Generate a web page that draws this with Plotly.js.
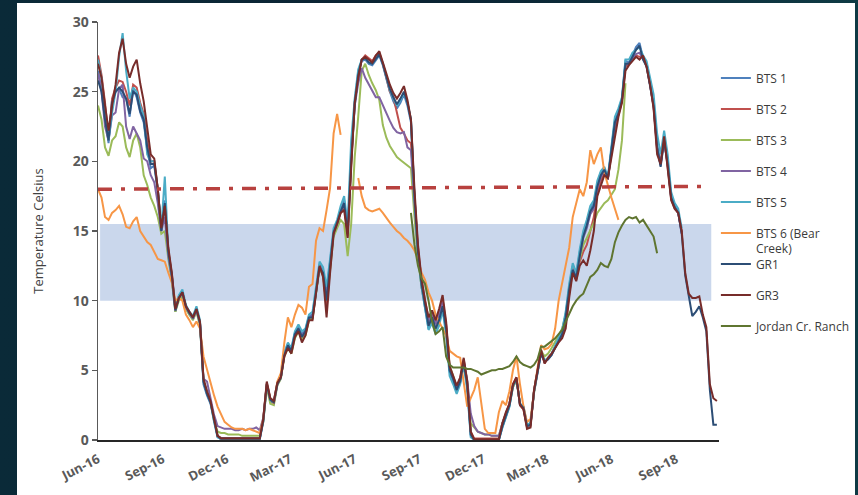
<!DOCTYPE html>
<html>
<head>
<meta charset="utf-8">
<script src="https://cdn.plot.ly/plotly-3.0.1.min.js"></script>
<style>
  html, body { margin:0; padding:0; width:858px; height:495px; overflow:hidden;
    background: linear-gradient(90deg, #0a2a38 0%, #0b2333 50%, #0e3a44 100%); }
  #panel { position:absolute; left:17px; top:3px; width:838px; height:500px; background:#ffffff; }
  #chart { position:absolute; left:0; top:0; width:858px; height:495px; }
</style>
</head>
<body>
<div id="panel"></div>
<div id="chart"></div>
<script>
// ---- data (5-day samples) ----
const dates = [
"2016-06-01","2016-06-06","2016-06-11","2016-06-16","2016-06-21","2016-06-26","2016-07-01","2016-07-06","2016-07-11","2016-07-16",
"2016-07-21","2016-07-26","2016-07-31","2016-08-05","2016-08-10","2016-08-15","2016-08-20","2016-08-25","2016-08-30","2016-09-04",
"2016-09-09","2016-09-14","2016-09-19","2016-09-24","2016-09-29","2016-10-04","2016-10-09","2016-10-14","2016-10-19","2016-10-24",
"2016-10-29","2016-11-03","2016-11-08","2016-11-13","2016-11-18","2016-11-23","2016-11-28","2016-12-03","2016-12-08","2016-12-13",
"2016-12-18","2016-12-23","2016-12-28","2017-01-02","2017-01-07","2017-01-12","2017-01-17","2017-01-22","2017-01-27","2017-02-01",
"2017-02-06","2017-02-11","2017-02-16","2017-02-21","2017-02-26","2017-03-03","2017-03-08","2017-03-13","2017-03-18","2017-03-23",
"2017-03-28","2017-04-02","2017-04-07","2017-04-12","2017-04-17","2017-04-22","2017-04-27","2017-05-02","2017-05-07","2017-05-12",
"2017-05-17","2017-05-22","2017-05-27","2017-06-01","2017-06-06","2017-06-11","2017-06-16","2017-06-21","2017-06-26","2017-07-01",
"2017-07-06","2017-07-11","2017-07-16","2017-07-21","2017-07-26","2017-07-31","2017-08-05","2017-08-10","2017-08-15","2017-08-20",
"2017-08-25","2017-08-30","2017-09-04","2017-09-09","2017-09-14","2017-09-19","2017-09-24","2017-09-29","2017-10-04","2017-10-09",
"2017-10-14","2017-10-19","2017-10-24","2017-10-29","2017-11-03","2017-11-08","2017-11-13","2017-11-18","2017-11-23","2017-11-28",
"2017-12-03","2017-12-08","2017-12-13","2017-12-18","2017-12-23","2017-12-28","2018-01-02","2018-01-07","2018-01-12","2018-01-17",
"2018-01-22","2018-01-27","2018-02-01","2018-02-06","2018-02-11","2018-02-16","2018-02-21","2018-02-26","2018-03-03","2018-03-08",
"2018-03-13","2018-03-18","2018-03-23","2018-03-28","2018-04-02","2018-04-07","2018-04-12","2018-04-17","2018-04-22","2018-04-27",
"2018-05-02","2018-05-07","2018-05-12","2018-05-17","2018-05-22","2018-05-27","2018-06-01","2018-06-06","2018-06-11","2018-06-16",
"2018-06-21","2018-06-26","2018-07-01","2018-07-06","2018-07-11","2018-07-16","2018-07-21","2018-07-26","2018-07-31","2018-08-05",
"2018-08-10","2018-08-15","2018-08-20","2018-08-25","2018-08-30","2018-09-04","2018-09-09","2018-09-14","2018-09-19","2018-09-24",
"2018-09-29","2018-10-04","2018-10-09","2018-10-14","2018-10-19","2018-10-24","2018-10-29"];

const bts1 = [
26.5,25.2,23.2,21.3,24.4,25.0,25.2,24.6,24.5,23.2,
25.2,24.6,23.5,22.8,20.8,19.5,19.7,17.8,15.0,17.2,
13.4,11.6,9.2,10.3,10.5,9.5,9.0,8.7,9.3,8.3,
4.0,3.2,2.6,1.3,0.2,0.05,0.05,0.05,0.05,0.05,
0.05,0.05,0.05,0.05,0.05,0.05,0.05,1.3,3.9,2.8,
2.6,4.0,4.4,6.2,6.9,6.5,7.7,8.1,7.6,7.9,
8.9,9.0,10.7,12.6,12.2,10.6,12.8,15.0,15.6,16.5,
17.2,15.0,20.5,24.3,26.4,27.2,27.3,27.0,26.9,27.3,
27.6,26.9,25.9,25.0,24.3,23.8,24.2,24.8,24.0,22.8,
17.2,13.2,11.0,9.4,8.0,8.6,7.8,8.4,9.5,7.8,
4.9,4.2,3.5,4.1,5.5,3.8,0.3,0.0,0.0,0.0,
0.0,0.0,0.0,0.0,0.0,0.9,1.7,2.4,3.8,4.3,
2.6,2.4,1.1,1.2,3.4,4.9,6.2,5.6,5.8,6.1,
6.7,7.3,7.8,9.0,11.0,12.5,11.8,13.5,14.8,15.6,
16.6,17.0,18.4,19.2,19.5,18.7,21.0,23.0,23.6,24.5,
27.2,27.1,27.6,28.2,28.5,27.4,27.0,25.6,24.2,21.2,
19.8,21.8,20.0,17.5,16.8,16.4,14.9,null,null,null,
null,null,null,null,null,null,null];

const bts2 = [
27.6,26.2,24.2,21.6,24.5,25.3,25.8,25.7,25.0,24.0,
25.5,25.3,24.2,23.4,21.5,20.0,20.0,18.0,15.1,17.0,
13.6,11.9,9.4,10.3,10.6,9.6,9.2,8.8,9.4,8.5,
4.3,3.4,2.8,1.5,0.3,0.15,0.15,0.15,0.15,0.15,
0.15,0.15,0.15,0.15,0.15,0.15,0.15,1.5,4.1,3.0,
2.8,4.1,4.5,6.1,6.7,6.3,7.5,7.9,7.2,7.6,
8.7,8.7,10.5,12.5,11.9,9.5,12.3,14.9,15.5,16.3,
16.8,14.6,19.8,24.2,26.1,27.3,27.6,27.4,27.2,27.6,
27.8,27.0,26.0,25.0,24.6,23.5,22.4,22.0,21.5,21.3,
17.5,13.8,11.4,9.9,8.7,9.1,8.4,9.2,10.1,8.3,
5.2,4.5,3.8,4.4,5.8,4.1,0.6,0.1,0.1,0.1,
0.1,0.1,0.1,0.1,0.1,1.2,1.9,2.6,4.0,4.5,
2.5,2.2,0.9,1.0,3.6,5.0,6.4,5.5,5.9,6.2,
6.6,7.1,7.5,8.4,10.5,12.1,11.5,12.8,13.5,14.0,
15.0,16.0,17.8,18.6,19.2,18.8,20.5,22.4,23.3,24.3,
26.8,27.0,27.3,27.6,27.5,27.5,26.8,25.5,23.9,20.8,
19.8,21.6,19.6,17.3,16.6,16.3,14.9,null,null,null,
null,null,null,null,null,null,null];

const bts3 = [
24.0,23.0,21.0,20.4,21.5,21.8,22.8,22.5,21.0,20.3,
21.5,22.0,21.0,19.0,18.3,17.4,16.8,16.0,14.8,15.0,
13.0,11.4,9.2,10.0,10.3,9.4,9.0,8.6,9.2,8.2,
4.3,3.4,2.8,1.4,0.6,0.5,0.5,0.4,0.4,0.4,
0.4,0.3,0.3,0.3,0.3,0.3,0.3,1.3,3.8,2.6,
2.5,3.9,4.4,6.0,6.6,6.2,7.3,7.8,7.2,7.5,
8.6,8.7,10.4,12.3,11.8,10.0,12.2,14.6,15.2,15.8,
15.5,13.2,15.5,20.3,23.2,26.5,27.0,26.2,25.6,25.1,
24.4,22.6,21.7,21.1,20.7,20.3,20.1,19.9,19.7,19.5,
16.0,13.0,11.0,9.5,8.3,8.3,7.9,8.5,9.6,8.0,
5.3,4.6,3.8,4.2,5.6,4.2,1.2,0.9,0.6,0.5,
0.4,0.4,0.3,0.3,0.3,1.2,1.8,2.5,3.8,4.3,
2.6,2.3,1.0,1.1,3.4,5.0,6.4,6.0,6.2,6.6,
7.0,7.5,8.0,9.0,10.8,12.4,12.0,13.0,14.0,14.5,
15.0,15.6,16.3,16.7,17.0,17.2,17.6,18.0,19.4,21.5,
25.6,null,null,null,null,null,null,null,null,null,
null,null,null,null,null,null,null,null,null,null,
null,null,null,null,null,null,null];

const bts4 = [
26.3,25.0,22.5,21.5,23.3,23.5,25.2,25.5,22.5,21.6,
22.5,22.0,21.5,20.2,20.0,19.0,18.5,17.0,15.0,16.0,
13.2,11.6,9.3,10.2,10.5,9.5,9.1,8.7,9.3,8.4,
4.4,4.2,3.0,1.8,1.0,0.9,0.8,0.8,0.8,0.7,
0.7,0.8,0.7,0.8,0.8,0.9,0.7,1.6,4.0,2.9,
2.7,4.0,4.5,6.2,6.8,6.4,7.5,8.0,7.5,7.8,
8.8,8.9,10.6,12.4,12.1,10.4,12.6,14.9,15.5,16.4,
17.0,14.9,20.2,24.0,25.6,26.7,26.0,25.5,25.1,24.6,
24.6,24.0,23.4,22.9,22.4,22.1,22.0,22.1,21.0,20.8,
17.0,13.6,11.2,9.8,8.5,9.0,8.3,9.0,9.9,8.2,
5.1,4.5,3.7,4.3,5.7,4.3,1.9,1.0,0.6,0.5,
0.4,0.4,0.3,0.3,0.3,1.2,1.9,2.6,3.9,4.4,
2.5,2.3,1.0,1.1,3.5,5.0,6.3,5.6,5.9,6.2,
6.7,7.2,7.7,8.8,10.8,12.3,11.7,13.3,14.5,15.2,
16.2,16.6,18.1,18.9,19.3,18.7,20.7,22.7,23.4,24.4,
27.0,27.0,27.4,27.7,27.8,27.4,26.9,25.5,24.0,21.0,
19.7,21.5,19.8,17.4,16.7,16.3,14.8,null,null,null,
null,null,null,null,null,null,null];

const bts5 = [
27.3,26.0,23.5,21.5,23.5,25.0,27.5,29.2,26.5,24.5,
25.3,25.0,24.0,23.3,20.5,20.0,20.0,18.0,15.2,18.9,
13.5,11.8,9.4,10.4,10.8,9.7,9.2,8.9,9.6,8.6,
4.2,3.3,2.7,1.3,0.2,0.05,0.05,0.05,0.05,0.05,
0.05,0.05,0.05,0.05,0.05,0.05,0.05,1.4,4.0,2.9,
2.7,4.1,4.5,6.3,7.0,6.6,7.8,8.3,7.8,8.0,
9.0,9.2,10.9,12.8,12.4,11.0,13.0,15.2,15.8,16.8,
17.5,15.5,21.5,24.5,26.6,27.3,27.4,27.1,27.0,27.4,
27.7,27.0,26.0,25.1,24.5,24.0,24.4,24.9,24.2,23.0,
17.4,13.4,11.0,9.3,7.9,8.4,7.6,8.2,9.3,7.5,
4.6,4.0,3.3,4.0,5.4,3.6,0.2,0.0,0.0,0.0,
0.0,0.0,0.0,0.0,0.0,0.9,1.7,2.4,3.9,4.4,
2.6,2.4,1.1,1.2,3.5,5.0,6.3,5.7,5.9,6.2,
6.8,7.4,7.9,9.2,11.2,12.7,12.0,13.7,15.0,15.8,
16.8,17.2,18.6,19.3,19.6,18.9,21.2,23.2,23.8,24.6,
27.3,27.3,27.8,28.0,28.2,27.6,27.2,26.0,24.8,22.0,
20.5,22.2,20.5,17.8,17.0,16.6,15.2,null,null,null,
null,null,null,null,null,null,null];

const bts6 = [
18.0,17.4,16.0,15.8,16.3,16.5,16.8,16.2,15.3,15.2,
15.7,16.0,15.0,14.6,14.2,14.0,13.5,13.0,12.9,12.8,
12.0,11.3,10.0,10.2,10.0,9.0,8.6,8.1,8.5,8.0,
6.0,5.0,4.0,3.2,2.4,1.8,1.3,1.1,0.9,0.8,
0.8,0.8,0.7,0.8,0.7,0.6,0.5,1.5,4.0,3.0,
2.6,4.2,4.8,7.0,8.8,8.1,9.0,9.7,9.5,9.0,
11.0,11.2,14.3,15.2,15.0,16.5,18.1,22.0,23.4,21.9,
null,null,null,null,18.8,17.5,16.7,16.5,16.4,16.5,
16.6,16.3,15.9,15.6,15.3,15.0,14.8,14.5,14.3,14.0,
13.6,13.0,12.0,11.5,10.6,10.0,9.0,8.5,8.0,7.5,
6.4,6.2,6.0,5.9,4.0,2.4,3.0,3.6,4.5,2.5,
0.8,0.5,0.5,0.5,2.0,2.8,2.5,3.5,5.0,6.0,
4.0,2.4,1.3,1.5,3.5,5.2,6.8,6.5,6.6,6.9,
8.0,10.0,11.3,12.5,13.8,16.0,17.0,18.0,17.5,18.5,
20.8,19.8,20.5,21.0,19.2,18.2,17.4,16.6,15.8,null,
null,null,null,null,null,null,null,null,null,null,
null,null,null,null,null,null,null,null,null,null,
null,null,null,null,null,null,null];

const gr1 = [
25.8,25.0,23.0,21.5,24.2,25.0,25.3,25.0,24.5,23.4,
25.0,24.8,23.6,23.0,21.0,19.8,19.8,18.0,15.0,17.0,
13.5,11.8,9.3,10.2,10.6,9.6,9.1,8.8,9.4,8.4,
4.2,3.3,2.7,1.4,0.3,0.1,0.1,0.1,0.1,0.1,
0.1,0.1,0.1,0.1,0.1,0.1,0.1,1.4,4.0,2.9,
2.7,4.0,4.5,6.1,6.8,6.4,7.6,8.0,7.4,7.8,
8.8,8.8,10.6,12.4,12.0,10.0,12.5,14.9,15.6,16.4,
17.0,14.8,20.0,24.0,26.2,27.3,27.4,27.1,27.0,27.4,
27.7,27.0,26.0,25.2,24.6,24.1,24.5,25.0,24.2,23.0,
17.5,13.5,11.2,9.6,8.2,8.8,8.0,8.6,9.6,8.0,
5.0,4.4,3.6,4.2,5.6,4.0,0.4,0.0,0.0,0.0,
0.0,0.0,0.0,0.0,0.0,1.0,1.8,2.5,3.9,4.4,
2.6,2.3,1.0,1.1,3.5,5.0,6.3,5.6,5.8,6.1,
6.6,7.2,7.6,8.8,10.8,12.2,11.6,13.2,14.6,15.4,
16.4,16.8,18.2,19.0,19.4,18.8,20.8,22.8,23.4,24.4,
27.0,27.0,27.5,28.0,28.3,27.3,26.8,25.4,24.0,21.0,
19.6,21.5,19.8,17.4,16.7,16.3,14.8,11.8,10.2,8.9,
9.2,9.6,8.8,7.8,3.6,1.1,1.1];

const gr3 = [
27.0,26.0,24.0,22.2,24.0,25.5,27.8,28.8,27.0,26.0,
26.8,27.3,25.6,24.3,22.4,20.5,20.2,18.0,15.2,16.8,
13.8,12.0,9.4,10.2,10.6,9.6,9.2,8.8,9.4,8.5,
4.4,3.5,2.8,1.5,0.3,0.1,0.1,0.1,0.1,0.1,
0.1,0.1,0.1,0.1,0.1,0.1,0.1,1.5,4.2,3.0,
2.8,4.1,4.5,6.0,6.6,6.2,7.4,7.8,7.0,7.5,
8.6,8.6,10.5,12.5,11.7,8.8,12.0,14.8,15.5,16.3,
16.5,14.5,19.5,24.2,26.0,27.3,27.5,27.3,27.1,27.6,
27.9,27.1,26.2,25.5,24.9,24.5,24.9,25.4,24.4,23.0,
18.0,14.0,11.6,10.0,8.8,9.3,8.6,9.4,10.4,8.5,
5.3,4.6,3.9,4.5,5.9,4.2,0.6,0.05,0.05,0.05,
0.05,0.05,0.05,0.05,0.05,1.2,2.0,2.6,4.0,4.5,
2.5,2.2,0.8,0.9,3.6,5.0,6.5,5.5,5.9,6.2,
6.6,7.0,7.3,8.0,10.2,12.0,11.4,12.5,12.9,12.5,
13.6,15.0,17.5,18.3,19.0,18.8,20.3,22.0,23.2,24.2,
26.5,26.9,27.2,27.5,27.3,27.6,26.8,25.5,23.8,20.5,
19.8,21.8,19.5,17.2,16.6,16.3,15.0,12.0,10.5,10.2,
10.2,10.3,9.0,8.1,4.0,3.0,2.8];

const jordan = [
null,null,null,null,null,null,null,null,null,null,
null,null,null,null,null,null,null,null,null,null,
null,null,null,null,null,null,null,null,null,null,
null,null,null,null,null,null,null,null,null,null,
null,null,null,null,null,null,null,null,null,null,
null,null,null,null,null,null,null,null,null,null,
null,null,null,null,null,null,null,null,null,null,
null,null,null,null,null,null,null,null,null,null,
null,null,null,null,null,null,null,null,null,16.3,
14.0,12.5,11.6,11.2,10.0,8.5,7.6,7.8,8.1,6.0,
5.4,5.2,5.2,5.2,5.2,5.1,5.1,5.0,4.9,4.7,
4.8,4.9,5.0,5.0,5.1,5.1,5.2,5.3,5.6,6.0,
5.6,5.4,5.3,5.2,5.4,5.8,6.7,6.7,6.9,7.1,
7.3,7.6,7.9,8.5,9.1,9.6,10.0,10.3,10.5,11.1,
11.7,11.9,12.2,12.7,12.5,12.4,13.0,14.2,14.9,15.4,
15.8,16.0,15.9,16.0,15.6,15.8,15.4,15.0,14.6,13.4,
null,null,null,null,null,null,null,null,null,null,
null,null,null,null,null,null,null];

const seriesNames = ["BTS 1","BTS 2","BTS 3","BTS 4","BTS 5","BTS 6 (Bear<br>Creek)","GR1","GR3","Jordan Cr. Ranch"];
const seriesValues = [bts1,bts2,bts3,bts4,bts5,bts6,gr1,gr3,jordan];
const seriesColors = ["#4f81bd","#c0504d","#9bbb59","#8064a2","#4bacc6","#f79646","#2c4d75","#772c2a","#5f7530"];
const seriesLegend = ["legend","legend","legend","legend","legend","legend","legend2","legend2","legend2"];

// threshold line and target band
const thresholdDates = ["2016-06-01","2018-10-09"];
const thresholdValues = [18.0, 18.2];
const bandDates = ["2016-06-04","2018-10-21"];
const bandRange = [10, 15.5];

const xTickStart = "2016-06-01";
const xRange = ["2016-06-01","2018-11-01"];

// ---- traces ----
const traces = seriesNames.map((n,i) => ({
  type:"scatter", mode:"lines", name:n, x:dates, y:seriesValues[i],
  line:{color:seriesColors[i], width:2}, connectgaps:false,
  legendgroup:"g"+i, legend:seriesLegend[i]
}));
traces.push({
  type:"scatter", mode:"lines", x:thresholdDates, y:thresholdValues, showlegend:false,
  line:{color:"#b8413f", width:3.5, dash:"14px,9px,4px,9px"}, hoverinfo:"skip"
});

const fontFam = "'Open Sans', 'DejaVu Sans', sans-serif";
const legendBase = {xanchor:"left", yanchor:"top", valign:"top",
  font:{size:12, color:"#3b3b3b", family:fontFam}, tracegroupgap:12, bgcolor:"rgba(0,0,0,0)"};
const layout = {
  width:858, height:495,
  paper_bgcolor:"rgba(0,0,0,0)", plot_bgcolor:"rgba(0,0,0,0)",
  margin:{l:98, r:139, t:22, b:55, autoexpand:false},
  font:{family:fontFam, color:"#595959"},
  showlegend:true,
  legend:Object.assign({x:0.995, y:0.9}, legendBase),
  legend2:Object.assign({x:0.995, y:0.455}, legendBase),
  xaxis:{type:"date", range:xRange, tick0:xTickStart, dtick:"M3", tickformat:"%b-%y",
         tickangle:-27, ticks:"", showgrid:false, zeroline:false, ticklabelstandoff:5,
         showline:true, linecolor:"#262626", linewidth:2,
         tickfont:{size:13, color:"#595959", family:fontFam, weight:"bold"}},
  yaxis:{range:[0,30], dtick:5, ticks:"outside", ticklen:5, tickcolor:"#595959", tickwidth:1.5,
         showgrid:false, zeroline:false, showline:true, linecolor:"#595959", linewidth:1.5,
         tickfont:{size:14, color:"#595959", family:fontFam, weight:"bold"},
         title:{text:"Temperature Celsius", font:{size:13, color:"#404040", family:fontFam}, standoff:26}},
  shapes:[{type:"rect", xref:"x", yref:"y", x0:bandDates[0], x1:bandDates[1], y0:bandRange[0], y1:bandRange[1],
           fillcolor:"rgb(202,215,236)", line:{width:0}, layer:"below"}]
};

Plotly.newPlot("chart", traces, layout, {displayModeBar:false, staticPlot:true});
</script>
</body>
</html>
